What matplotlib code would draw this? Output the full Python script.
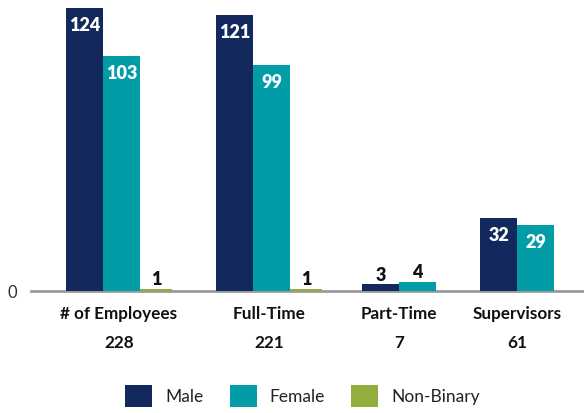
import matplotlib
matplotlib.use("Agg")
import matplotlib.pyplot as plt
from matplotlib.patches import Patch

plt.rcParams['font.family'] = ['Lato', 'DejaVu Sans']

categories = ["# of Employees", "Full-Time", "Part-Time", "Supervisors"]
male = [124, 121, 3, 32]
female = [103, 99, 4, 29]
nonbinary = [1, 1, 0, 0]
series_names = ["Male", "Female", "Non-Binary"]

colors = ["#13285c", "#019ca6", "#92ae3d"]

# layout (pixel-like x units)
W, H = 584, 413
group_left = [66, 216, 362, 480]
bar_w = [37, 37, 32]

fig = plt.figure(figsize=(W / 100, H / 100), dpi=100)
ax = fig.add_axes([31 / W, 122 / H, (W - 31) / W, 291 / H])
ax.set_xlim(31, W)
ax.set_ylim(0, 291 / 2.28)

series = [male, female, nonbinary]
group_centers = []
for gi, left in enumerate(group_left):
    x = left
    for si, vals in enumerate(series):
        v = vals[gi]
        if v == 0:
            continue
        ax.bar(x, v, width=bar_w[si], align='edge', color=colors[si],
               edgecolor='none', zorder=3)
        cx = x + bar_w[si] / 2
        if v >= 20:
            ax.annotate(str(v), (cx, v), xytext=(0, -12.5), textcoords='offset points',
                        ha='center', va='center', color='white',
                        fontsize=13, fontweight='heavy', zorder=4)
        else:
            ax.annotate(str(v), (cx, v), xytext=(0, 6.5), textcoords='offset points',
                        ha='center', va='center', color='#111111',
                        fontsize=13, fontweight='heavy', zorder=4)
        x += bar_w[si]
    group_centers.append((left + x) / 2)

handles = [Patch(facecolor=c, edgecolor='none') for c in colors]

totals = [m + f + n for m, f, n in zip(male, female, nonbinary)]
ax.set_xticks(group_centers)
ax.set_xticklabels([f"{c}\n{t}" for c, t in zip(categories, totals)],
                   fontsize=12.3, fontweight='bold', color='#111111', linespacing=2.0)
ax.tick_params(axis='x', length=0, pad=11)

ax.set_yticks([0])
ax.set_yticklabels(["0"], fontsize=12, color='#333333')
ax.tick_params(axis='y', length=0, pad=10)

for s in ['top', 'right', 'left']:
    ax.spines[s].set_visible(False)
ax.spines['bottom'].set_color('#9a9a9a')
ax.spines['bottom'].set_linewidth(2)
ax.spines['bottom'].set_zorder(1)

fig.legend(handles, series_names, loc='center', bbox_to_anchor=(0.518, 0.041),
           ncol=3, frameon=False, fontsize=12.5, handlelength=1.55, handleheight=1.5,
           handletextpad=0.75, columnspacing=1.5, labelcolor='#222222')

fig.savefig("out.png", dpi=100)
